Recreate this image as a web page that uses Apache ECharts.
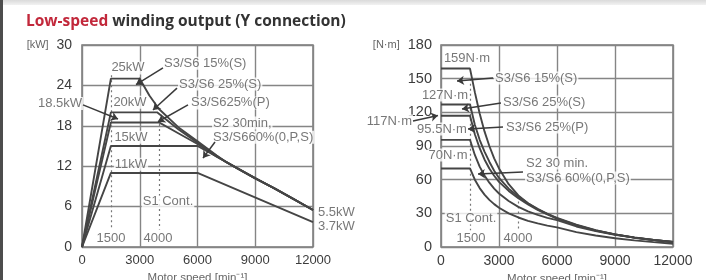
<!DOCTYPE html>
<html><head><meta charset="utf-8">
<script src="https://cdn.jsdelivr.net/npm/echarts/dist/echarts.min.js"></script>
<style>
html,body{margin:0;padding:0;background:#fff;overflow:hidden;}
#c{width:706px;height:280px;}
#top{position:absolute;left:0;top:0;width:706px;height:5px;background:linear-gradient(#dadada,#f2f2f2);}
#lb{position:absolute;left:0;top:0;width:3px;height:280px;background:#4d4d4d;}
</style></head><body>
<div id="c"></div><div id="top"></div><div id="lb"></div>
<script>
// ---- data ----
const xTicks = [0, 3000, 6000, 9000, 12000];
const powerTicks = [0, 6, 12, 18, 24, 30];
const torqueTicks = [0, 30, 60, 90, 120, 150, 180];

// Power [kW] vs motor speed [min-1]
const powerS3_15S = [[0,0],[1500,25],[3000,25],[3500,22.5],[4000,20.5],[5000,17.8],[6000,15.7],[7000,13.6],[7500,12.6],[8000,11.8],[9000,10.2],[10000,8.7],[11000,7.1],[12000,5.5]];
const powerS3_25S = [[0,0],[1500,20],[3900,20],[5000,17.5],[6000,15.5],[7000,13.5],[7500,12.6],[8000,11.8],[9000,10.2],[10000,8.7],[11000,7.1],[12000,5.5]];
const powerS3_25P = [[0,0],[1500,18.5],[4000,18.5],[5000,16.9],[6000,15.3],[7000,13.4],[8000,11.8],[9000,10.2],[10000,8.7],[11000,7.1],[12000,5.5]];
const powerS2_30 = [[0,0],[1500,15],[6000,15],[12000,5.5]];
const powerS1 = [[0,0],[1500,11],[6000,11],[12000,3.7]];

// Torque [N·m] vs motor speed [min-1]
const torqueS3_15S = [[0,159],[1500,159],[1750,138],[2000,119],[2250,103],[2500,90],[2750,79],[3000,70],[3500,56],[4000,46],[4500,39],[5000,33.5],[5500,29.5],[6000,26],[7000,20],[8000,15],[9000,11.3],[10000,8.5],[11000,6.3],[12000,4.5]];
const torqueS3_25S = [[0,127],[1500,127],[1750,109],[2000,95.5],[2250,85],[2500,76],[2750,68],[3000,61.5],[3500,52],[4000,45],[4500,39],[5000,34],[5500,29.5],[6000,25.5],[7000,19.5],[8000,14.8],[9000,11.2],[10000,8.4],[11000,6.2],[12000,4.4]];
const torqueS3_25P = [[0,117],[1500,117],[1750,100.5],[2000,88],[2250,78],[2500,70],[2750,63.5],[3000,58],[3500,50],[4000,43.5],[4500,38],[5000,33],[5500,29],[6000,25.3],[7000,19.2],[8000,14.6],[9000,11.1],[10000,8.4],[11000,6.2],[12000,4.4]];
const torqueS2_30 = [[0,95.5],[1500,95.5],[1750,82],[2000,71.6],[2250,63.7],[2500,57.3],[2750,52],[3000,47.7],[3500,41],[4000,35.8],[4500,31.8],[5000,28.6],[5500,26],[6000,23.9],[7000,18.3],[8000,14.1],[9000,10.9],[10000,8.3],[11000,6.1],[12000,4.4]];
const torqueS1 = [[0,70],[1500,70],[1750,60],[2000,52.5],[2250,46.7],[2500,42],[2750,38.2],[3000,35],[3500,30],[4000,26.3],[4500,23.3],[5000,21],[5500,19.1],[6000,17.5],[7000,13.3],[8000,10.2],[9000,7.8],[10000,5.9],[11000,4.3],[12000,2.9]];

// annotation texts
const powerNotes = [
  {t:'25kW', p:[2390,26.6], a:'center'},
  {t:'S3/S6 15%(S)', p:[4208,27.3], a:'left'},
  {t:'S3/S6 25%(S)', p:[4987,24.2], a:'left'},
  {t:'S3/S625%(P)', p:[5610,21.4], a:'left'},
  {t:'18.5kW', p:[52,21.3], a:'right'},
  {t:'20kW', p:[2494,21.5], a:'center'},
  {t:'15kW', p:[2545,16.3], a:'center'},
  {t:'11kW', p:[2545,12.3], a:'center'},
  {t:'S2 30min,', p:[6753,18.4], a:'left'},
  {t:'S3/S660%(0,P,S)', p:[6753,16.3], a:'left'},
  {t:'S1 Cont.', p:[4468,6.7], a:'center'},
  {t:'1500', p:[1506,1.34], a:'center'},
  {t:'4000', p:[3948,1.34], a:'center'},
  {t:'5.5kW', p:[12208,5.2], a:'left'},
  {t:'3.7kW', p:[12208,3.1], a:'left'}
];
const powerArrows = [
  [[4208,26.6],[2805,24.1]],
  [[4935,23.6],[3688,20.35]],
  [[5506,21.1],[3948,18.6]],
  [[52,21.1],[1870,19.0]],
  [[6909,15.6],[6286,13.2]]
];
const powerDots = [ [[1500,25.5],[1500,2.6]], [[4000,19],[4000,2.6]] ];

const torqueNotes = [
  {t:'159N·m', p:[1345,168.4], a:'center'},
  {t:'S3/S6 15%(S)', p:[2741,150.6], a:'left'},
  {t:'127N·m', p:[207,135.4], a:'center'},
  {t:'S3/S6 25%(S)', p:[3155,129.2], a:'left'},
  {t:'117N·m', p:[-1448,112.3], a:'right'},
  {t:'95.5N·m', p:[52,105.1], a:'center'},
  {t:'S3/S6 25%(P)', p:[3310,106.9], a:'left'},
  {t:'70N·m', p:[362,82], a:'center'},
  {t:'S2 30 min.', p:[4345,74.9], a:'left'},
  {t:'S3/S6 60%(0,P,S)', p:[4345,61.5], a:'left'},
  {t:'S1 Cont.', p:[1552,25.8], a:'center'},
  {t:'1500', p:[1552,8], a:'center'},
  {t:'4000', p:[3983,8], a:'center'}
];
const torqueArrows = [
  [[2690,150.6],[828,147.9]],
  [[3103,128.3],[1086,123]],
  [[-1448,112.3],[-155,117.2]],
  [[3207,106.9],[1397,105.1]],
  [[4241,66.8],[1914,65]]
];
const torqueDots = [ [[1500,150],[1500,15]], [[4000,45],[4000,15]] ];

// ---- chart ----
const FONT = '"Liberation Sans", Arial, sans-serif';
const CURVE = '#454545';
const chart = echarts.init(document.getElementById('c'), null, {renderer:'canvas'});

function curve(data, xi){
  return {type:'line', xAxisIndex:xi, yAxisIndex:xi, data:data, showSymbol:false, symbol:'none',
    smooth:false, z:5, silent:true, clip:false,
    lineStyle:{color:CURVE, width:1.9}};
}
function notes(list, xi){
  return {type:'scatter', xAxisIndex:xi, yAxisIndex:xi, symbolSize:0, z:3, clip:false, silent:true,
    data:list.map(n=>({value:n.p, label:{align:n.a, formatter:n.t}})),
    label:{show:true, position:'inside', color:'#555', fontSize:13, fontFamily:FONT,
      verticalAlign:'middle', backgroundColor:'#fff', padding:[0,1]}};
}
function arrows(list, xi){
  return {type:'lines', coordinateSystem:'cartesian2d', xAxisIndex:xi, yAxisIndex:xi, z:6, clip:false, silent:true,
    symbol:['none','arrow'], symbolSize:7,
    lineStyle:{color:'#3a3a3a', width:1.5, opacity:1, curveness:0},
    data:list.map(c=>({coords:c}))};
}
function dots(list, xi){
  return {type:'lines', coordinateSystem:'cartesian2d', xAxisIndex:xi, yAxisIndex:xi, z:2, clip:false, silent:true,
    symbol:['none','none'],
    lineStyle:{color:'#777', width:1.2, type:[2,3], opacity:1},
    data:list.map(c=>({coords:c}))};
}

function xAxis(gi, fs){
  return {type:'value', gridIndex:gi, min:xTicks[0], max:xTicks[xTicks.length-1], interval:xTicks[1]-xTicks[0],
    axisLine:{show:false}, axisTick:{show:false},
    axisLabel:{margin:7, color:'#3c3c3c', fontSize:fs, fontFamily:FONT, formatter:v=>String(v)},
    splitLine:{show:true, lineStyle:{color:'#858585', width:1.4}},
    name:'Motor speed [min⁻¹]', nameLocation:'middle', nameGap:24,
    nameTextStyle:{color:'#666', fontSize:11.5, fontFamily:FONT}};
}
function yAxis(gi, ticks, unit, fs, margin){
  const max = ticks[ticks.length-1];
  return {type:'value', gridIndex:gi, min:ticks[0], max:max, interval:ticks[1]-ticks[0],
    axisLine:{show:false}, axisTick:{show:false},
    axisLabel:{margin:margin, color:'#3c3c3c', fontSize:fs, fontFamily:FONT,
      formatter:v=> v===max ? '{u|'+unit+'}  '+v : String(v),
      rich:{u:{fontSize:11, color:'#666', fontFamily:FONT}}},
    splitLine:{show:true, lineStyle:{color:'#858585', width:1.4}}};
}

chart.setOption({
  animation:false,
  backgroundColor:'#fff',
  title:{text:'{r|Low-speed} winding output (Y connection)', left:21, top:9,
    textStyle:{color:'#333', fontSize:15.5, fontWeight:'bold', fontFamily:'"Open Sans", sans-serif',
      rich:{r:{color:'#c2283b', fontSize:15.5, fontWeight:'bold', fontFamily:'"Open Sans", sans-serif'}}}},
  grid:[
    {left:82, top:45, width:231, height:202, show:true, borderColor:'#777', borderWidth:1.5, backgroundColor:'transparent', containLabel:false, outerBoundsMode:'none'},
    {left:441, top:45, width:232, height:202, show:true, borderColor:'#777', borderWidth:1.5, backgroundColor:'transparent', containLabel:false, outerBoundsMode:'none'}
  ],
  xAxis:[xAxis(0,13), xAxis(1,14)],
  yAxis:[yAxis(0, powerTicks, '[kW]', 14, 10), yAxis(1, torqueTicks, '[N·m]', 14.5, 9)],
  series:[
    curve(powerS3_15S,0), curve(powerS3_25S,0), curve(powerS3_25P,0),
    curve(powerS2_30,0), curve(powerS1,0),
    curve(torqueS3_15S,1), curve(torqueS3_25S,1), curve(torqueS3_25P,1),
    curve(torqueS2_30,1), curve(torqueS1,1),
    notes(powerNotes,0), notes(torqueNotes,1),
    arrows(powerArrows,0), arrows(torqueArrows,1),
    dots(powerDots,0), dots(torqueDots,1)
  ]
});
</script>
</body></html>
